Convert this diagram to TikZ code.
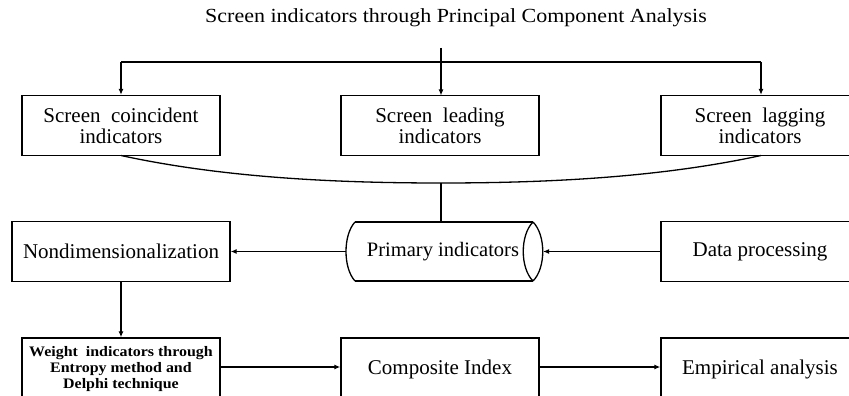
\documentclass[tikz,border=0pt]{standalone}
\usepackage{fontspec}
\setmainfont{Liberation Serif}
\usetikzlibrary{arrows.meta}
\begin{document}
\begin{tikzpicture}[x=1pt,y=-1pt,
  line width=1.3pt,
  box/.style={draw, line width=1.3pt, minimum width=198pt, minimum height=60pt, inner sep=0pt, align=center, font=\fontsize{21}{21}\selectfont},
  arr/.style={-{Latex[length=6pt,width=5pt]}}]
\useasboundingbox (0,0) rectangle (849,396);
\clip (0,0) rectangle (849,396);
\node[font=\fontsize{20}{20}\selectfont] (title) at (456,18) {\scalebox{1.1}[1]{Screen indicators through Principal Component Analysis}};
% row 1
\node[box] (coin) at (121,125.5) {Screen\ \ coincident\\indicators};
\node[box] (lead) at (440,125.5) {Screen\ \ leading\\indicators};
\node[box] (lag) at (760,125.5) {Screen\ \ lagging\\indicators};
\coordinate (top) at (441,48);
\coordinate (hub) at (441,62);
\coordinate (hl) at (121,62);
\coordinate (hr) at (761,62);
\draw (top) -- (hub);
\draw (hl) -- (hr);
\draw[arr] (hub) -- (441,95.5);
\draw[arr] (hl) -- (coin.north -| hl);
\draw[arr] (hr) -- (lag.north -| hr);
% curve
\coordinate (cl) at (121,155.5);
\coordinate (cm) at (441,183);
\coordinate (cr) at (761,155.5);
\draw (cl) .. controls (220,177) and (330,183) .. (cm) .. controls (552,183) and (662,177) .. (cr);
% row 2
\node[box, minimum width=218pt] (nond) at (121,251.5) {Nondimensionalization};
\node[box] (data) at (760,251.5) {Data processing};
% cylinder
\draw (355,222) -- (533,222);
\draw (355,281) -- (533,281);
\draw (355,222) .. controls (343,235) and (343,268) .. (355,281);
\draw (533,222) .. controls (520,235) and (520,268) .. (533,281);
\draw (533,222) .. controls (546,235) and (546,268) .. (533,281);
\node[font=\fontsize{20.5}{20}\selectfont] (prim) at (443,251.5) {Primary indicators};
\coordinate (cylL) at (346,251.5);
\coordinate (cylR) at (543,251.5);
\coordinate (cylT) at (441,222);
\draw (cm) -- (cylT);
\draw[arr] (data.west) -- (cylR);
\draw[arr] (cylL) -- (nond.east);
% row 3
\node[box, minimum height=62pt, font=\fontsize{14.5}{16}\selectfont\bfseries] (wt) at (121,369) {\scalebox{1.1}[1]{Weight\ \ indicators through}\\\scalebox{1.1}[1]{Entropy method and}\\\scalebox{1.1}[1]{Delphi technique}};
\node[box, minimum height=62pt] (comp) at (440,369) {Composite Index};
\node[box, minimum height=62pt] (emp) at (760,369) {Empirical analysis};
\draw[arr] (nond.south) -- (wt.north);
\draw[arr] (wt.east |- 0,367) -- (comp.west |- 0,367);
\draw[arr] (comp.east |- 0,367) -- (emp.west |- 0,367);
\end{tikzpicture}
\end{document}
